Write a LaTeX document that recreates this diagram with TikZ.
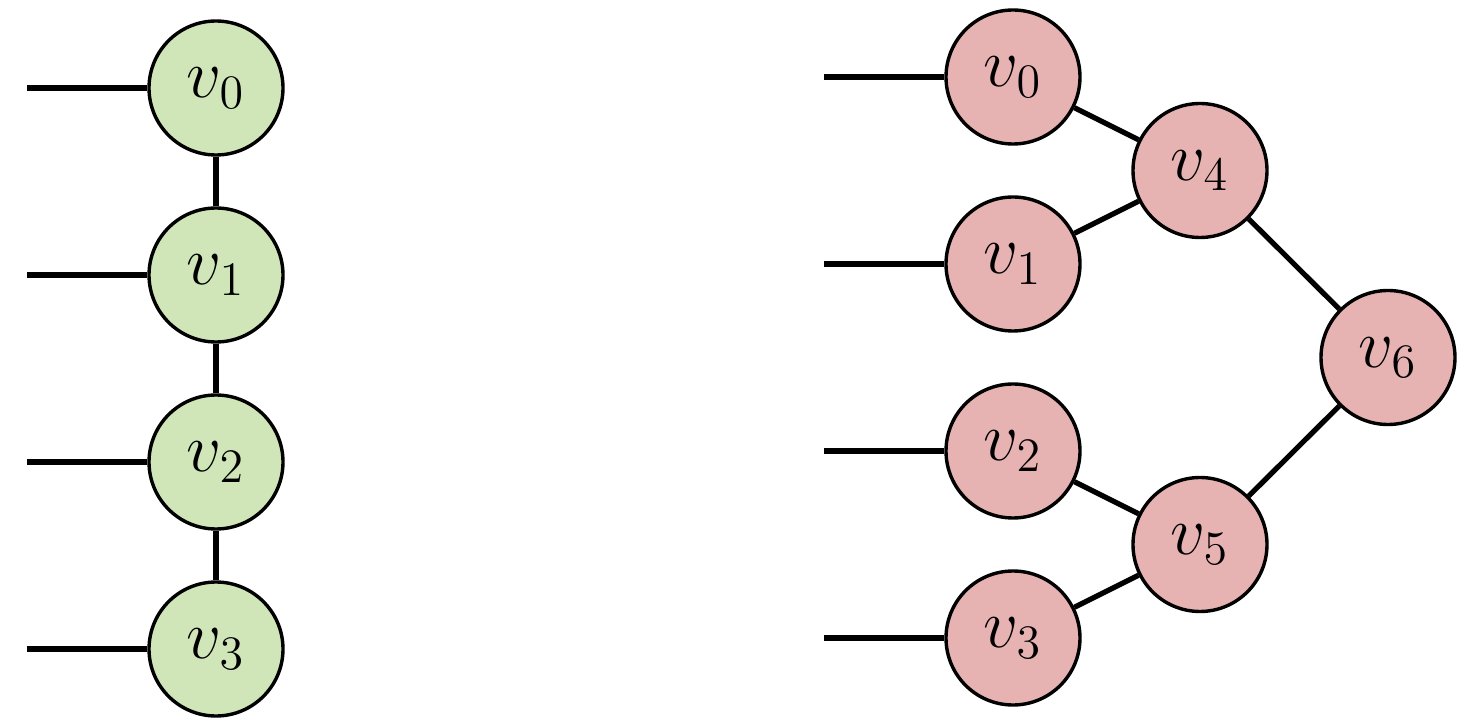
\documentclass[tikz,border=0pt]{standalone}
\usepackage{amsmath}
\usepackage{amssymb}
\usetikzlibrary{positioning,calc}

\definecolor{leafgreen}{HTML}{D0E6B8}
\definecolor{leafred}{HTML}{E6B2B2}

\tikzset{
	vert/.style={circle, draw, line width=0.85pt, minimum size=33.5pt, inner sep=0pt, font=\LARGE},
	gvert/.style={vert, fill=leafgreen},
	rvert/.style={vert, fill=leafred},
	wire/.style={line width=1.3pt}
}

\begin{document}
\begin{tikzpicture}[x=0.25pt, y=-0.25pt, node distance=12.4pt]
		\useasboundingbox (0,0) rectangle (1469,727);
		% left: chain
		\node[gvert] at (216,88) (lv0) {$v_0$};
		\node[gvert, below = of lv0] (lv1) {$v_1$};
		\node[gvert, below = of lv1] (lv2) {$v_2$};
		\node[gvert, below = of lv2] (lv3) {$v_3$};
		\foreach \i in {0,...,3} {
			\coordinate[left = 30pt of lv\i.west] (ls\i);
			\draw[wire] (ls\i) -- (lv\i);
		}
		\draw[wire] (lv0) -- (lv1) (lv1) -- (lv2) (lv2) -- (lv3);
		% right: tree
		\node[rvert] at (1013,77) (rv0) {$v_0$};
		\node[rvert, below = of rv0] (rv1) {$v_1$};
		\node[rvert, below = of rv1] (rv2) {$v_2$};
		\node[rvert, below = of rv2] (rv3) {$v_3$};
		\node[rvert] at ($($(rv0)!0.5!(rv1)$) + (187,0)$) (rv4) {$v_4$};
		\node[rvert] at ($($(rv2)!0.5!(rv3)$) + (187,0)$) (rv5) {$v_5$};
		\node[rvert] at ($($(rv4)!0.5!(rv5)$) + (188,0)$) (rv6) {$v_6$};
		\foreach \i in {0,...,3} {
			\coordinate[left = 30pt of rv\i.west] (rs\i);
			\draw[wire] (rs\i) -- (rv\i);
		}
		\draw[wire] (rv0) -- (rv4) (rv1) -- (rv4) (rv2) -- (rv5) (rv3) -- (rv5);
		\draw[wire] (rv4) -- (rv6) (rv5) -- (rv6);
	\end{tikzpicture}
\end{document}
